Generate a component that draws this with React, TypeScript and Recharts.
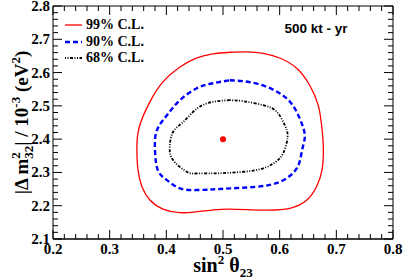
import React from "react";
import { ComposedChart, Line, ReferenceLine, Scatter, XAxis, YAxis } from "recharts";

// sin^2(theta23) vs |dm^2_32| allowed regions, 500 kt-yr exposure

const xMajorTicks = [0.2, 0.3, 0.4, 0.5, 0.6, 0.7, 0.8];
const yMajorTicks = [2.1, 2.2, 2.3, 2.4, 2.5, 2.6, 2.7, 2.8];

// contours traced clockwise from the top, [sin2theta23, dm2 (1e-3 eV^2)]
const cl99 = [
  [0.512, 2.661], [0.542, 2.662], [0.571, 2.658], [0.601, 2.643], [0.63, 2.613],
  [0.653, 2.562], [0.668, 2.502], [0.674, 2.442], [0.677, 2.38], [0.675, 2.31],
  [0.665, 2.257], [0.648, 2.217], [0.618, 2.192], [0.571, 2.187], [0.512, 2.19],
  [0.482, 2.187], [0.454, 2.182], [0.424, 2.179], [0.394, 2.19], [0.371, 2.217],
  [0.357, 2.257], [0.35, 2.307], [0.348, 2.367], [0.352, 2.435], [0.371, 2.512],
  [0.394, 2.572], [0.424, 2.617], [0.454, 2.644], [0.482, 2.656], [0.512, 2.661],
];

const cl90 = [
  [0.512, 2.577], [0.548, 2.571], [0.583, 2.553], [0.612, 2.523], [0.63, 2.482],
  [0.642, 2.432], [0.644, 2.4], [0.639, 2.362], [0.63, 2.312], [0.601, 2.272],
  [0.559, 2.257], [0.512, 2.252], [0.482, 2.249], [0.454, 2.247], [0.424, 2.252],
  [0.401, 2.277], [0.385, 2.307], [0.38, 2.367], [0.383, 2.425], [0.401, 2.472],
  [0.424, 2.517], [0.454, 2.553], [0.482, 2.568], [0.512, 2.577],
];

const cl68 = [
  [0.512, 2.517], [0.536, 2.514], [0.571, 2.502], [0.595, 2.482], [0.609, 2.442],
  [0.614, 2.407], [0.606, 2.357], [0.589, 2.327], [0.559, 2.307], [0.512, 2.299],
  [0.482, 2.297], [0.454, 2.297], [0.436, 2.302], [0.412, 2.337], [0.406, 2.377],
  [0.412, 2.422], [0.43, 2.452], [0.454, 2.492], [0.482, 2.512], [0.512, 2.517],
];

const bestFit = [[0.5, 2.4]];

const seriesNames = ["99% C.L.", "90% C.L.", "68% C.L."];
const seriesColors = ["#ff0000", "#0000ff", "#000000"];
const seriesDash = [undefined, "5 3", "1 1.5 1 1.5 3 1.5"];
const seriesWidth = [1.3, 2.4, 1.8];

const toPoints = (pairs: number[][]) => pairs.map(([x, y]) => ({ x, y }));
const contours = [cl99, cl90, cl68].map(toPoints);

// 5 secondary divisions between labelled ticks
const withMinor = (majors: number[]) => {
  const out: number[] = [];
  for (let i = 0; i < majors.length; i++) {
    out.push(majors[i]);
    if (i === majors.length - 1) break;
    const step = (majors[i + 1] - majors[i]) / 5;
    for (let k = 1; k < 5; k++) out.push(+(majors[i] + k * step).toFixed(3));
  }
  return out;
};
const xAllTicks = withMinor(xMajorTicks);
const yAllTicks = withMinor(yMajorTicks);
const isMajor = (list: number[], v: number) => list.some((m) => Math.abs(m - v) < 1e-6);

const SERIF = "'Liberation Serif', 'Times New Roman', serif";
const SANS = "'Liberation Sans', Arial, sans-serif";

const W = 407;
const H = 280;
const MARGIN = { top: 6, right: 14, bottom: 0, left: 0 };
const Y_WIDTH = 53;
const X_HEIGHT = 41;
const PLOT_TOP = MARGIN.top;
const PLOT_BOTTOM = H - X_HEIGHT - MARGIN.bottom;
const PLOT_LEFT = MARGIN.left + Y_WIDTH;
const PLOT_RIGHT = W - MARGIN.right;

function XTick(props: any) {
  const { x, payload } = props;
  const major = isMajor(xMajorTicks, payload.value);
  const len = major ? 9 : 5;
  return (
    <g>
      <line x1={x} x2={x} y1={PLOT_BOTTOM} y2={PLOT_BOTTOM - len} stroke="#000" />
      <line x1={x} x2={x} y1={PLOT_TOP} y2={PLOT_TOP + len} stroke="#000" />
      {major && (
        <text x={x} y={PLOT_BOTTOM + 15} textAnchor="middle" fontFamily={SERIF} fontWeight={700} fontSize={15} fill="#000">
          {payload.value.toFixed(1)}
        </text>
      )}
    </g>
  );
}

function YTick(props: any) {
  const { y, payload } = props;
  const major = isMajor(yMajorTicks, payload.value);
  const len = major ? 9 : 5;
  return (
    <g>
      <line x1={PLOT_LEFT} x2={PLOT_LEFT + len} y1={y} y2={y} stroke="#000" />
      <line x1={PLOT_RIGHT} x2={PLOT_RIGHT - len} y1={y} y2={y} stroke="#000" />
      {major && (
        <text x={PLOT_LEFT - 3} y={y + 5} textAnchor="end" fontFamily={SERIF} fontWeight={700} fontSize={15} fill="#000">
          {payload.value.toFixed(1)}
        </text>
      )}
    </g>
  );
}

function LegendBox() {
  return (
    <div style={{ fontFamily: SERIF, fontWeight: 700, fontSize: 14, color: "#000", lineHeight: "16.5px" }}>
      {seriesNames.map((name, i) => (
        <div key={name} style={{ display: "flex", alignItems: "center", height: 16.5 }}>
          <svg width={20} height={10} style={{ marginRight: 2 }}>
            <line
              x1={1}
              x2={18}
              y1={5}
              y2={5}
              stroke={seriesColors[i]}
              strokeWidth={seriesWidth[i]}
              strokeDasharray={seriesDash[i]}
            />
          </svg>
          <span>{name}</span>
        </div>
      ))}
    </div>
  );
}

export default function App() {
  const plotCenterX = (PLOT_LEFT + PLOT_RIGHT) / 2;
  const plotCenterY = (PLOT_TOP + PLOT_BOTTOM) / 2;

  return (
    <div style={{ position: "absolute", left: 0, top: 0, width: W, height: H, background: "#fff" }}>
      <ComposedChart width={W} height={H} margin={MARGIN}>
        <XAxis
          xAxisId="x"
          dataKey="x"
          type="number"
          domain={[0.2, 0.8]}
          ticks={xAllTicks}
          interval={0}
          allowDataOverflow
          height={X_HEIGHT}
          tickLine={false}
          tickSize={0}
          tick={<XTick />}
          axisLine={{ stroke: "#000", strokeWidth: 1.5 }}
        />
        <YAxis
          yAxisId="y"
          dataKey="y"
          type="number"
          domain={[2.1, 2.8]}
          ticks={yAllTicks}
          interval={0}
          allowDataOverflow
          width={Y_WIDTH}
          tickLine={false}
          tickSize={0}
          tick={<YTick />}
          axisLine={{ stroke: "#000" }}
        />
        <ReferenceLine xAxisId="x" yAxisId="y" x={0.8} stroke="#000" ifOverflow="visible" />
        <ReferenceLine xAxisId="x" yAxisId="y" y={2.8} stroke="#000" ifOverflow="visible" />

        {contours.map((pts, i) => (
          <Line
            key={seriesNames[i]}
            xAxisId="x"
            yAxisId="y"
            data={pts}
            dataKey="y"
            name={seriesNames[i]}
            type="natural"
            stroke={seriesColors[i]}
            strokeWidth={seriesWidth[i]}
            strokeDasharray={seriesDash[i]}
            dot={false}
            activeDot={false}
            isAnimationActive={false}
          />
        ))}
        <Scatter
          xAxisId="x"
          yAxisId="y"
          data={toPoints(bestFit)}
          dataKey="y"
          fill="#ff0000"
          shape={(p: any) => <circle cx={p.cx} cy={p.cy} r={3} fill="#ff0000" />}
          isAnimationActive={false}
        />
      </ComposedChart>

      <div style={{ position: "absolute", left: 64, top: 17 }}>
        <LegendBox />
      </div>

      <svg width={W} height={H} style={{ position: "absolute", left: 0, top: 0, pointerEvents: "none" }}>
        <text
          x={plotCenterX}
          y={272}
          textAnchor="middle"
          fontFamily={SERIF}
          fontWeight={700}
          fontSize={20}
          fill="#000"
        >
          sin
          <tspan dy={-8} fontSize={13}>2</tspan>
          <tspan dy={8}> θ</tspan>
          <tspan dy={5} fontSize={13}>23</tspan>
        </text>
        <text
          transform={`translate(28, ${plotCenterY}) rotate(-90)`}
          textAnchor="middle"
          fontFamily={SERIF}
          fontWeight={700}
          fontSize={19}
          fill="#000"
        >
          |Δ m
          <tspan dy={-8} fontSize={13}>2</tspan>
          <tspan dx={-6.5} dy={13} fontSize={13}>32</tspan>
          <tspan dy={-5}>| / 10</tspan>
          <tspan dy={-8} fontSize={13}>-3</tspan>
          <tspan dy={8}> (eV</tspan>
          <tspan dy={-8} fontSize={13}>2</tspan>
          <tspan dy={8}>)</tspan>
        </text>
        <text x={316} y={33} textAnchor="middle" fontFamily={SANS} fontWeight={700} fontSize={13.5} fill="#000">
          500 kt - yr
        </text>
      </svg>
    </div>
  );
}
